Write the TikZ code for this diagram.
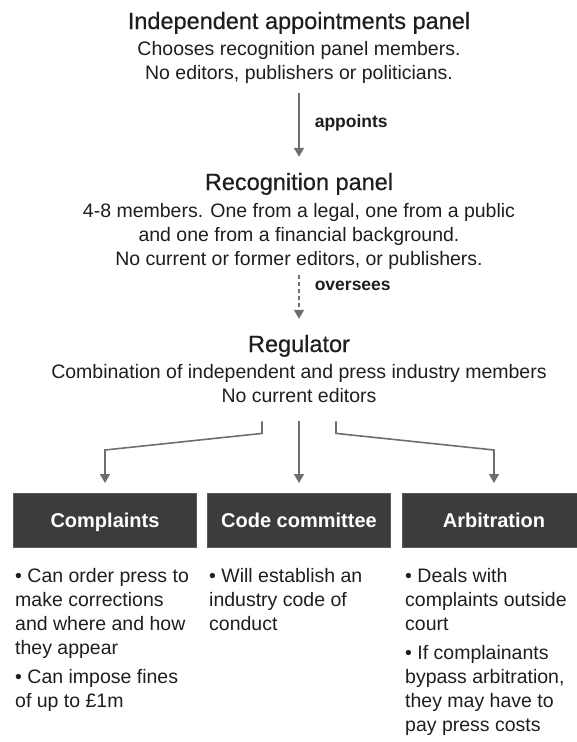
\documentclass[tikz,border=0pt]{standalone}
\usepackage{fontspec}
\setmainfont{Liberation Sans}
\newfontfamily\medfont[FakeBold=0.5]{Liberation Sans}
\usetikzlibrary{positioning, arrows.meta, calc}

\definecolor{cTexte}{HTML}{1E1E1E}
\definecolor{cFleche}{HTML}{6E6E6E}
\definecolor{cBoite}{HTML}{3C3C3C}
\definecolor{cBord}{HTML}{5A5A5A}

\tikzset{
  titre/.style={font=\medfont\fontsize{23.5}{28}\selectfont, text=cTexte, inner sep=0pt},
  corps/.style={font=\fontsize{19.5}{24}\selectfont, text=cTexte, align=center, inner sep=0pt},
  verbe/.style={font=\bfseries\fontsize{17.5}{20}\selectfont, text=cTexte, inner sep=0pt},
  fleche/.style={draw=cFleche, line width=1.6pt, -{Triangle[width=10pt,length=9pt]}},
  boite/.style={fill=cBoite, draw=cBord, line width=1pt, minimum width=183pt, minimum height=54pt,
    text height=16pt, text depth=2pt,
    text=white, font=\bfseries\fontsize{20}{24}\selectfont},
  liste/.style={font=\fontsize{19.5}{24}\selectfont, text=cTexte, align=left, inner sep=0pt, anchor=base west},
}

\begin{document}
\begin{tikzpicture}[x=1pt, y=-1pt]
    \useasboundingbox (0,0) rectangle (576,742);

    % Niveaux (ancre base = derniere ligne)
    \node[titre, anchor=base] (panel) at (299,29) {Independent appointments panel};
    \node[corps, anchor=base] (panelTxt) at (299,79) {Chooses recognition panel members.\\No editors, publishers or politicians.};

    \node[titre, anchor=base] (recog) at (299,190) {Recognition panel};
    \node[corps, anchor=base] (recogTxt) at (299,265) {4-8 members. One from a legal, one from a public\\and one from a financial background.\\No current or former editors, or publishers.};

    \node[titre, anchor=base] (regul) at (299,352) {Regulator};
    \node[corps, anchor=base] (regulTxt) at (299,402) {Combination of independent and press industry members\\No current editors};

    % Boites
    \node[boite] (plaintes) at (105,520.5) {Complaints};
    \node[boite] (code) at (299,520.5) {Code committee};
    \node[boite] (arbitrage) at (494,520.5) {Arbitration};

    % Fleches
    \draw[fleche, shorten <=10pt, shorten >=16pt] (panelTxt.south) -- (recog.north)
        node[pos=0.44, right=15pt, verbe] (appoints) {appoints};
    \draw[fleche, dash pattern=on 4pt off 3pt, shorten <=6pt, shorten >=16pt] (recogTxt.south) -- (regul.north)
        node[pos=0.25, right=15pt, verbe] (oversees) {oversees};

    \draw[fleche] ([xshift=-37pt, yshift=-19pt]regulTxt.south) -- ++(0,12)
        -- ([yshift=43pt]plaintes.north) -- ([yshift=10pt]plaintes.north);
    \draw[fleche] ([yshift=-19pt]regulTxt.south) -- ([yshift=10pt]code.north);
    \draw[fleche] ([xshift=37pt, yshift=-19pt]regulTxt.south) -- ++(0,12)
        -- ([yshift=43pt]arbitrage.north) -- ([yshift=10pt]arbitrage.north);

    % Listes
    \node[liste] (plaintesTxt) at (15,707) {• Can order press to\\make corrections\\and where and how\\they appear\\[5pt]• Can impose fines\\of up to £1m};
    \node[liste] (codeTxt) at (209,630) {• Will establish an\\industry code of\\conduct};
    \node[liste] (arbitrageTxt) at (405,731) {• Deals with\\complaints outside\\court\\[5pt]• If complainants\\bypass arbitration,\\they may have to\\pay press costs};
\end{tikzpicture}
\end{document}
